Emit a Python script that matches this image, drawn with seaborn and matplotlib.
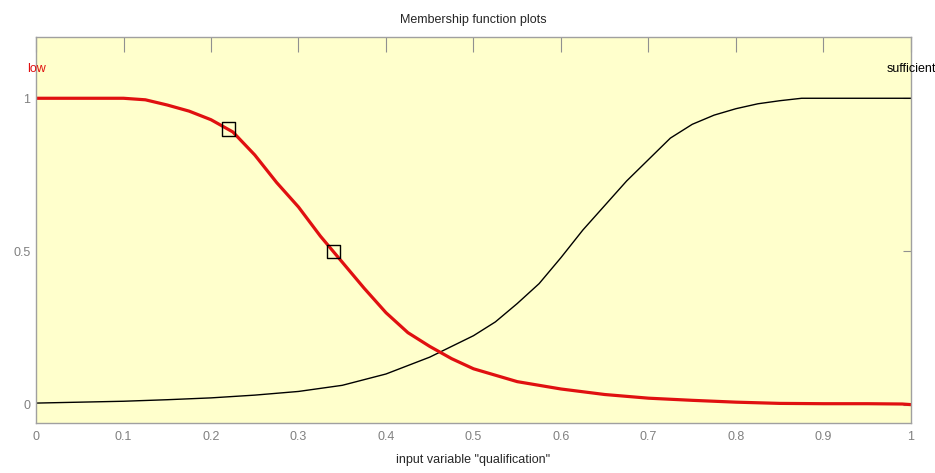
import matplotlib
matplotlib.use("Agg")
import matplotlib.pyplot as plt
import seaborn as sns

sns.set_style("white")
plt.rcParams["font.family"] = ["Liberation Sans Narrow", "Liberation Sans", "DejaVu Sans"]

# membership values
x_low = [0, 0.05, 0.1, 0.125, 0.15, 0.175, 0.2, 0.225, 0.25, 0.275, 0.3, 0.325,
         0.35, 0.375, 0.4, 0.425, 0.45, 0.475, 0.5, 0.55, 0.6, 0.65, 0.7, 0.75,
         0.8, 0.85, 0.9, 0.95, 0.99, 1.0]
y_low = [1, 1, 1, 0.995, 0.978, 0.958, 0.93, 0.89, 0.815, 0.725, 0.645, 0.55,
         0.465, 0.38, 0.30, 0.235, 0.19, 0.15, 0.117, 0.075, 0.051, 0.033, 0.021, 0.014,
         0.008, 0.004, 0.003, 0.003, 0.002, 0]

x_suff = [0, 0.05, 0.1, 0.15, 0.2, 0.25, 0.3, 0.35, 0.4, 0.45, 0.5, 0.525, 0.55,
          0.575, 0.6, 0.625, 0.65, 0.675, 0.7, 0.725, 0.75, 0.775, 0.8, 0.825,
          0.85, 0.875, 0.9, 0.95, 1.0]
y_suff = [0.005, 0.008, 0.011, 0.016, 0.022, 0.031, 0.043, 0.063, 0.10, 0.155, 0.225, 0.27, 0.33,
          0.395, 0.48, 0.57, 0.65, 0.73, 0.80, 0.87, 0.915, 0.945, 0.966, 0.982,
          0.992, 1.0, 1.0, 1.0, 1.0]

x_marks = [0.22, 0.34]
y_marks = [0.9, 0.5]

mf_names = ["low", "sufficient"]
mf_label_x = [0, 1]
x_ticks = [0, 0.1, 0.2, 0.3, 0.4, 0.5, 0.6, 0.7, 0.8, 0.9, 1]
x_tick_labels = ["0", "0.1", "0.2", "0.3", "0.4", "0.5", "0.6", "0.7", "0.8", "0.9", "1"]
y_ticks = [0, 0.5, 1]
y_tick_labels = ["0", "0.5", "1"]

fig = plt.figure(figsize=(9.35, 4.73), dpi=100)
ax = fig.add_axes([36 / 935, 50 / 473, 875 / 935, 386 / 473])
ax.set_facecolor("#ffffcc")

sns.lineplot(x=x_suff, y=y_suff, color="black", linewidth=1.0, ax=ax)
sns.lineplot(x=x_low, y=y_low, color="#e01010", linewidth=2.3, ax=ax)
sns.scatterplot(x=x_marks, y=y_marks, marker="s", s=95, facecolor="none",
                edgecolor="black", linewidth=1.0, ax=ax, zorder=5)

ax.text(mf_label_x[0], 1.095, mf_names[0], color="#e01010", ha="center", va="center", fontsize=9)
ax.text(mf_label_x[1], 1.095, mf_names[1], color="black", ha="center", va="center", fontsize=9)

ax.set_xlim(0, 1)
ax.set_ylim(-0.06, 1.2)
ax.set_xticks(x_ticks)
ax.set_xticklabels(x_tick_labels)
ax.set_yticks(y_ticks)
ax.set_yticklabels(y_tick_labels)
ax.tick_params(axis="x", direction="in", length=11, width=0.8, color="#909090",
               labelcolor="#808080", labelsize=9, pad=6, top=True)
ax.tick_params(axis="y", direction="in", length=6, width=0.8, color="#909090",
               labelcolor="#808080", labelsize=9, pad=4, right=True)
for sp in ax.spines.values():
    sp.set_color("#a0a0a0")
    sp.set_linewidth(1.0)

ax.set_title("Membership function plots", fontsize=9, pad=10)
ax.set_xlabel('input variable "qualification"', fontsize=9, labelpad=8)
ax.set_ylabel("")

fig.savefig("out.png", dpi=100, facecolor="white")
